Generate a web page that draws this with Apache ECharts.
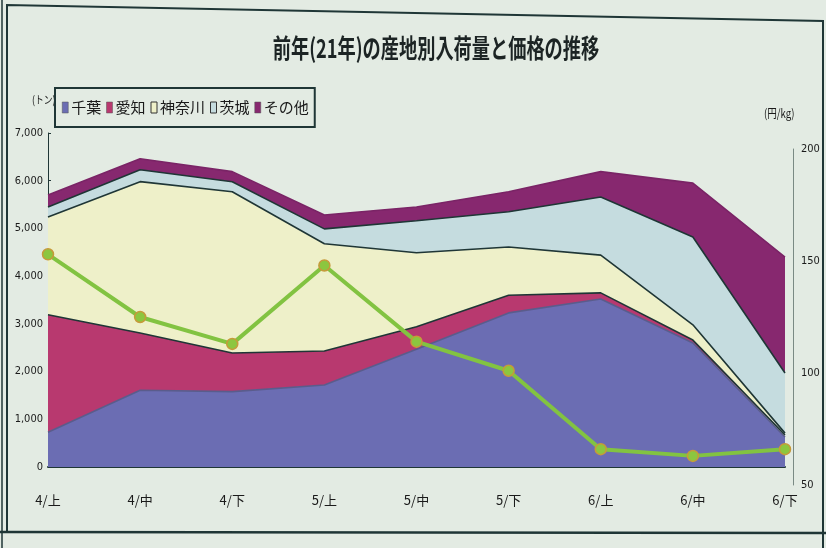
<!DOCTYPE html>
<html>
<head>
<meta charset="utf-8">
<script src="https://cdn.jsdelivr.net/npm/echarts@6/dist/echarts.min.js"></script>
<style>
  html, body { margin: 0; padding: 0; background: #e3ebe3; }
  #chart { width: 826px; height: 548px; }
</style>
</head>
<body>
<div id="chart"></div>
<script>
const categories = ['4/上', '4/中', '4/下', '5/上', '5/中', '5/下', '6/上', '6/中', '6/下']

// 入荷量 (トン)
const chiba = [730, 1610, 1580, 1720, 2470, 3230, 3520, 2600, 630]
const aichi = [2460, 1200, 810, 710, 470, 370, 130, 60, 40]
const kanagawa = [2050, 3170, 3380, 2250, 1550, 1010, 790, 320, 40]
const ibaraki = [210, 250, 210, 310, 670, 740, 1220, 1840, 1260]
const others = [250, 230, 210, 290, 290, 420, 530, 1130, 2430]

// 価格 (円/kg)
const price = [153, 125, 113, 148, 114, 101, 66, 63, 66]

const leftTicks = [0, 7000, 1000]
const rightTicks = [50, 200, 50]

const bg = '#e3ebe3'
const dark = '#1f3636'
const cjk = "'Noto Sans CJK JP', 'Noto Sans', sans-serif"

const chart = echarts.init(document.getElementById('chart'))

function areaSeries(name, data, color, lineColor) {
  return {
    name,
    type: 'line',
    stack: 'total',
    data,
    xAxisIndex: 0,
    yAxisIndex: 0,
    showSymbol: false,
    symbol: 'none',
    lineStyle: { color: lineColor || dark, width: 1.6 },
    itemStyle: { color },
    areaStyle: { color, opacity: 1 },
    z: 2
  }
}

chart.setOption({
  backgroundColor: bg,
  animation: false,
  textStyle: { fontFamily: cjk },
  legend: {
    left: 55,
    top: 88,
    padding: [12, 6, 12, 7],
    itemGap: 5,
    itemWidth: 6,
    itemHeight: 11,
    icon: 'rect',
    borderColor: dark,
    borderWidth: 2,
    backgroundColor: bg,
    textStyle: { fontSize: 15, color: '#1a1a1a', padding: [0, 0, 0, -2] },
    data: [
      { name: '千葉', itemStyle: { borderColor: '#555', borderWidth: 0.5 } },
      { name: '愛知', itemStyle: { borderColor: '#555', borderWidth: 0.5 } },
      { name: '神奈川', itemStyle: { borderColor: '#333', borderWidth: 1 } },
      { name: '茨城', itemStyle: { borderColor: '#333', borderWidth: 1 } },
      { name: 'その他', itemStyle: { borderColor: '#555', borderWidth: 0.5 } }
    ],
    z: 10
  },
  grid: [
    { left: 48, right: 41, top: 133, bottom: 81 },
    { left: 48, right: 41, top: 149, bottom: 63 }
  ],
  xAxis: [
    {
      type: 'category',
      gridIndex: 0,
      data: categories,
      boundaryGap: false,
      axisLine: { lineStyle: { color: dark, width: 2 } },
      axisTick: { show: false },
      axisLabel: { margin: 27, fontSize: 13, color: '#1a1a1a', fontFamily: "'Liberation Sans Narrow', 'Noto Sans CJK JP', sans-serif" }
    },
    {
      type: 'category',
      gridIndex: 1,
      data: categories,
      boundaryGap: false,
      show: false
    }
  ],
  yAxis: [
    {
      type: 'value',
      gridIndex: 0,
      min: leftTicks[0],
      max: leftTicks[1],
      interval: leftTicks[2],
      axisLine: { show: true, lineStyle: { color: dark, width: 1 } },
      axisTick: { show: true, inside: true, length: 3, lineStyle: { color: dark } },
      splitLine: { show: false },
      axisLabel: {
        margin: 5,
        fontSize: 11,
        color: '#1a1a1a',
        fontFamily: "'Liberation Sans Narrow', 'DejaVu Sans Condensed', sans-serif",
        formatter: v => v.toLocaleString('en-US')
      }
    },
    {
      type: 'value',
      gridIndex: 1,
      position: 'right',
      offset: 8,
      min: rightTicks[0],
      max: rightTicks[1],
      interval: rightTicks[2],
      axisLine: { show: true, lineStyle: { color: '#7a8a84', width: 1 } },
      axisTick: { show: false },
      splitLine: { show: false },
      axisLabel: {
        margin: 8,
        fontSize: 11,
        color: '#1a1a1a',
        fontFamily: "'Liberation Sans Narrow', 'DejaVu Sans Condensed', sans-serif"
      }
    }
  ],
  series: [
    areaSeries('千葉', chiba, '#6b6db3', '#5a5c8c'),
    areaSeries('愛知', aichi, '#b8396f'),
    areaSeries('神奈川', kanagawa, '#eef0c9'),
    areaSeries('茨城', ibaraki, '#c5dcdf'),
    areaSeries('その他', others, '#87286f', '#7a2466'),
    {
      name: '価格',
      type: 'line',
      xAxisIndex: 1,
      yAxisIndex: 1,
      data: price,
      symbol: 'circle',
      symbolSize: 11,
      lineStyle: { color: '#82c341', width: 4 },
      itemStyle: { color: '#8cc63f', borderColor: '#c69a3a', borderWidth: 1.5 },
      z: 5
    }
  ],
  graphic: [
    // outer frame
    { type: 'polyline', shape: { points: [[7, 533], [7, 5], [823, 21], [823, 548]] }, style: { stroke: dark, lineWidth: 2, fill: null }, z: 0 },
    { type: 'line', shape: { x1: 2, y1: 0, x2: 2, y2: 548 }, style: { stroke: dark, lineWidth: 1.5 }, z: 0 },
    { type: 'line', shape: { x1: 0, y1: 532, x2: 826, y2: 533 }, style: { stroke: dark, lineWidth: 2.5 }, z: 0 },
    // title
    {
      type: 'text',
      x: 436,
      y: 48,
      style: {
        text: '前年(21年)の産地別入荷量と価格の推移',
        font: "bold 26px 'Noto Sans CJK JP', sans-serif",
        fill: '#1c2424',
        textAlign: 'center',
        textVerticalAlign: 'middle'
      },
      scaleX: 0.7,
      z: 10
    },
    // axis unit labels
    {
      type: 'text', x: 32, y: 100, z: 1,
      style: { text: '(トン)', font: "11px 'Noto Sans CJK JP', sans-serif", fill: '#1a1a1a', textVerticalAlign: 'middle' },
      scaleX: 0.8
    },
    {
      type: 'text', x: 764, y: 113, z: 1,
      style: { text: '(円/kg)', font: "12px 'Noto Sans CJK JP', sans-serif", fill: '#1a1a1a', textVerticalAlign: 'middle' },
      scaleX: 0.8
    },
    // annotation box
    {
      type: 'group',
      x: 113,
      y: 224,
      z: 20,
      children: [
        { type: 'rect', shape: { x: 0, y: 0, width: 192, height: 51 }, style: { fill: '#edf1ea', stroke: dark, lineWidth: 2 } },
        {
          type: 'text', x: 96, y: 26, scaleX: 0.8,
          style: { text: '神奈川の収穫最盛期', font: "bold 19px 'Noto Sans CJK JP', sans-serif", fill: '#1c2424', textAlign: 'center', textVerticalAlign: 'middle' }
        }
      ]
    }
  ]
})
</script>
</body>
</html>
